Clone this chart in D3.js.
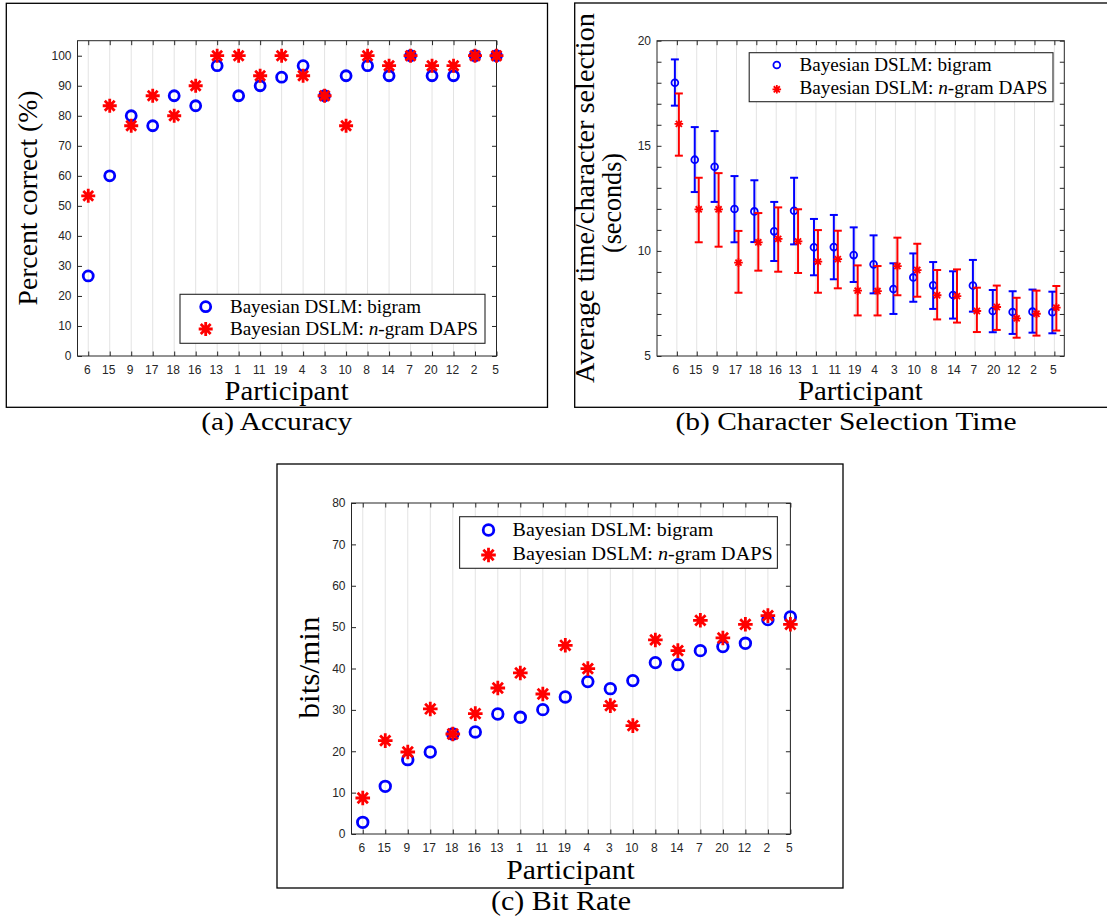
<!DOCTYPE html>
<html>
<head>
<meta charset="utf-8">
<title>DSLM results</title>
<script src="https://d3js.org/d3.v7.min.js"></script>
<style>
body { margin:0; background:white; }
.tick text { font-family:"Liberation Sans", Arial, sans-serif; font-size:12px; fill:#262626; }
.serif { font-family:"Liberation Serif", "Times New Roman", serif; fill:#000; }
</style>
</head>
<body>
<svg id="fig" width="1107" height="920"></svg>
<script>
// participants, in the order used on every x axis
const participants = ["6","15","9","17","18","16","13","1","11","19","4","3","10","8","14","7","20","12","2","5"];

// (a) accuracy, percent correct
const accBigram = [26.67,60,80,76.67,86.67,83.33,96.67,86.67,90,92.86,96.67,86.67,93.33,96.67,93.33,100,93.33,93.33,100,100];
const accDaps   = [53.33,83.33,76.67,86.67,80,90,100,100,93.33,100,93.33,86.67,76.67,100,96.67,100,96.67,96.67,100,100];

// (b) time per character selection (s), mean and error bar ends
const timeBigram   = [18.0,14.34,14.0,11.99,11.88,10.93,11.91,10.17,10.18,9.80,9.36,8.19,8.74,8.36,7.90,8.35,7.14,7.09,7.11,7.08];
const timeBigramLo = [16.91,12.80,12.33,10.41,10.42,9.52,10.31,8.84,8.65,8.52,7.98,7.0,7.58,7.24,6.78,7.11,6.13,6.05,6.11,6.08];
const timeBigramHi = [19.11,15.89,15.70,13.56,13.36,12.33,13.48,11.52,11.71,11.12,10.74,9.41,9.88,9.47,9.03,9.57,8.14,8.08,8.16,8.06];
const timeDaps     = [16.04,11.98,11.98,9.44,10.41,10.57,10.45,9.49,9.61,8.11,8.09,9.28,9.09,7.89,7.85,7.14,7.33,6.79,7.01,7.30];
const timeDapsLo   = [14.53,10.41,10.20,8.01,9.06,9.01,8.95,8.01,8.22,6.93,6.93,7.89,7.82,6.74,6.59,6.14,6.24,5.87,5.97,6.21];
const timeDapsHi   = [17.49,13.48,13.70,10.95,11.80,12.07,11.98,10.99,10.96,9.31,9.28,10.63,10.34,9.09,9.12,8.25,8.35,7.77,8.11,8.33];

// (c) bit rate, bits/min
const rateBigram = [2.82,11.52,17.97,19.82,24.17,24.66,29.0,28.2,30.06,33.12,36.83,35.13,37.07,41.42,40.93,44.32,45.29,46.09,51.81,52.46];
const rateDaps   = [8.70,22.56,19.82,30.22,24.17,29.09,35.29,38.92,33.84,45.61,39.97,31.02,26.19,46.90,44.32,51.65,47.38,50.68,52.78,50.68];

const yTicksAcc = d3.range(0, 101, 10);
const yTicksTime = d3.range(5, 21, 1);
const yTicksRate = d3.range(0, 81, 10);

const legendNames = ["Bayesian DSLM: bigram", "Bayesian DSLM: "];

const svg = d3.select("#fig");
const BLUE = "#0000ff", RED = "#ff0000", AX = "#262626";
const idx = d3.range(1, 21);

// matlab style asterisk: plus and x on top of each other
function asterisk(a) {
  return { draw(ctx) {
    const d = a * Math.SQRT1_2;
    ctx.moveTo(-a, 0); ctx.lineTo(a, 0);
    ctx.moveTo(0, -a); ctx.lineTo(0, a);
    ctx.moveTo(-d, -d); ctx.lineTo(d, d);
    ctx.moveTo(-d, d); ctx.lineTo(d, -d);
  }};
}

function serif(g, txt, x, y, size, len, rot) {
  const t = g.append("text").attr("class", "serif")
    .attr("text-anchor", "middle").style("font-size", size + "px")
    .attr("textLength", len).attr("lengthAdjust", "spacingAndGlyphs");
  if (rot) t.attr("transform", `translate(${x},${y}) rotate(-90)`);
  else t.attr("x", x).attr("y", y);
  t.text(txt);
  return t;
}

function panel(o) {
  const g = svg.append("g");
  g.append("rect").attr("x", o.box[0]).attr("y", o.box[1])
    .attr("width", o.box[2] - o.box[0]).attr("height", o.box[3] - o.box[1])
    .attr("fill", "none").attr("stroke", "#000").attr("stroke-width", 1.3);

  const x = d3.scaleLinear().domain(o.xdom).range([o.left, o.right]);
  const y = d3.scaleLinear().domain(o.ydom).range([o.bottom, o.top]);

  g.append("g").selectAll("line").data(idx).join("line")
    .attr("x1", d => x(d)).attr("x2", d => x(d))
    .attr("y1", o.top).attr("y2", o.bottom)
    .attr("stroke", "#e3e3e3").attr("stroke-width", 1);

  const tk = 4.5;
  const noDomain = s => s.select(".domain").remove();
  const tickStyle = s => s.selectAll(".tick line").attr("stroke", AX);
  g.append("g").attr("transform", `translate(0,${o.bottom})`)
    .call(d3.axisBottom(x).tickValues(idx).tickFormat(d => participants[d - 1])
      .tickSizeInner(-tk).tickSizeOuter(0).tickPadding(o.xpad))
    .call(noDomain).call(tickStyle)
    .call(s => s.selectAll(".tick text").attr("dx", -1.5));
  g.append("g").attr("transform", `translate(0,${o.top})`)
    .call(d3.axisTop(x).tickValues(idx).tickFormat("").tickSizeInner(-tk).tickSizeOuter(0))
    .call(noDomain).call(tickStyle);
  g.append("g").attr("transform", `translate(${o.left},0)`)
    .call(d3.axisLeft(y).tickValues(o.yticks).tickFormat(o.yfmt)
      .tickSizeInner(-tk).tickSizeOuter(0).tickPadding(6))
    .call(noDomain).call(tickStyle);
  g.append("g").attr("transform", `translate(${o.right},0)`)
    .call(d3.axisRight(y).tickValues(o.yticks).tickFormat("").tickSizeInner(-tk).tickSizeOuter(0))
    .call(noDomain).call(tickStyle);
  g.append("rect").attr("x", o.left).attr("y", o.top)
    .attr("width", o.right - o.left).attr("height", o.bottom - o.top)
    .attr("fill", "none").attr("stroke", AX).attr("stroke-width", 1);

  return { g, x, y };
}

function legend(g, L) {
  g.append("rect").attr("x", L.x0).attr("y", L.y0)
    .attr("width", L.x1 - L.x0).attr("height", L.y1 - L.y0)
    .attr("fill", "#fff").attr("stroke", AX).attr("stroke-width", 1.1);
  g.append("circle").attr("cx", L.mx).attr("cy", L.my[0]).attr("r", L.r)
    .attr("fill", "none").attr("stroke", BLUE).attr("stroke-width", L.sw);
  g.append("path").attr("transform", `translate(${L.mx},${L.my[1]})`)
    .attr("d", d3.symbol().type(asterisk(L.arm))())
    .attr("fill", "none").attr("stroke", RED).attr("stroke-width", L.sw);
  g.append("text").attr("class", "serif").attr("x", L.tx).attr("y", L.ty[0])
    .style("font-size", L.fs + "px").attr("textLength", L.w[0]).attr("lengthAdjust", "spacingAndGlyphs")
    .text(legendNames[0]);
  const t = g.append("text").attr("class", "serif").attr("x", L.tx).attr("y", L.ty[1])
    .style("font-size", L.fs + "px").attr("textLength", L.w[1]).attr("lengthAdjust", "spacingAndGlyphs");
  t.append("tspan").text(legendNames[1]);
  t.append("tspan").style("font-style", "italic").text("n");
  t.append("tspan").text("-gram DAPS");
}

function scatter(p, vals, kind, r, arm, sw) {
  if (kind === "o") {
    p.g.append("g").selectAll("circle").data(vals).join("circle")
      .attr("cx", (d, i) => p.x(i + 1)).attr("cy", d => p.y(d)).attr("r", r)
      .attr("fill", "none").attr("stroke", BLUE).attr("stroke-width", sw);
  } else {
    const sym = d3.symbol().type(asterisk(arm));
    p.g.append("g").selectAll("path").data(vals).join("path")
      .attr("transform", (d, i) => `translate(${p.x(i + 1)},${p.y(d)})`)
      .attr("d", sym()).attr("fill", "none").attr("stroke", RED).attr("stroke-width", sw);
  }
}

// ---------- (a) accuracy ----------
const pa = panel({ box: [6.3, 3.3, 547.5, 407.3], left: 77.5, right: 496.5, top: 40.7, bottom: 356,
  xdom: [0.5, 20], ydom: [0, 105], yticks: yTicksAcc, yfmt: d3.format("d"), xpad: 9 });
scatter(pa, accBigram, "o", 5, 0, 2.8);
scatter(pa, accDaps, "*", 0, 7, 2.8);
legend(pa.g, { x0: 180, y0: 294.3, x1: 485, y1: 343.3, mx: 205.7, my: [306.7, 329], r: 5, arm: 7, sw: 2.8,
  tx: 230, ty: [312.5, 335], fs: 18, w: [191, 248] });
serif(pa.g, "Percent correct (%)", 37, 198, 27, 215, true);
serif(pa.g, "Participant", 286.6, 399.5, 27, 124);
serif(pa.g, "(a) Accuracy", 276.8, 430, 26, 151);

// ---------- (b) selection time ----------
const pb = panel({ box: [574.7, 3, 1120, 407.3], left: 657, right: 1064.3, top: 40.7, bottom: 356,
  xdom: [0, 20.5], ydom: [5, 20], yticks: yTicksTime, yfmt: d => d % 5 === 0 ? d : "", xpad: 9 });
const off = 0.1, cap = 4;
function errorbars(vals, lo, hi, dx, color) {
  const eg = pb.g.append("g").attr("stroke", color).attr("stroke-width", 2).attr("fill", "none");
  const bars = vals.map((v, i) => ({ x: pb.x(i + 1 + dx), lo: pb.y(lo[i]), hi: pb.y(hi[i]) }));
  eg.selectAll(".v").data(bars).join("line").attr("class", "v")
    .attr("x1", d => d.x).attr("x2", d => d.x).attr("y1", d => d.lo).attr("y2", d => d.hi);
  eg.selectAll(".c1").data(bars).join("line").attr("class", "c1")
    .attr("x1", d => d.x - cap).attr("x2", d => d.x + cap).attr("y1", d => d.lo).attr("y2", d => d.lo);
  eg.selectAll(".c2").data(bars).join("line").attr("class", "c2")
    .attr("x1", d => d.x - cap).attr("x2", d => d.x + cap).attr("y1", d => d.hi).attr("y2", d => d.hi);
}
errorbars(timeBigram, timeBigramLo, timeBigramHi, -off, BLUE);
pb.g.append("g").selectAll("circle").data(timeBigram).join("circle")
  .attr("cx", (d, i) => pb.x(i + 1 - off)).attr("cy", d => pb.y(d)).attr("r", 3.4)
  .attr("fill", "none").attr("stroke", BLUE).attr("stroke-width", 1.8);
errorbars(timeDaps, timeDapsLo, timeDapsHi, off, RED);
pb.g.append("g").selectAll("path").data(timeDaps).join("path")
  .attr("transform", (d, i) => `translate(${pb.x(i + 1 + off)},${pb.y(d)})`)
  .attr("d", d3.symbol().type(asterisk(4.3))()).attr("fill", "none").attr("stroke", RED).attr("stroke-width", 1.8);
legend(pb.g, { x0: 749.2, y0: 52.7, x1: 1053, y1: 101.7, mx: 776.8, my: [65, 89.3], r: 3.4, arm: 4.3, sw: 1.8,
  tx: 799.5, ty: [71, 94], fs: 18, w: [192, 248] });
serif(pb.g, "Average time/character selection", 594, 198, 27, 370, true);
serif(pb.g, "(seconds)", 621, 203, 27, 100, true);
serif(pb.g, "Participant", 860.4, 399.5, 27, 125);
serif(pb.g, "(b) Character Selection Time", 846, 430, 26, 341);

// ---------- (c) bit rate ----------
const pc = panel({ box: [277, 464, 843, 888], left: 351.5, right: 790.4, top: 503, bottom: 834,
  xdom: [0.5, 20], ydom: [0, 80], yticks: yTicksRate, yfmt: d3.format("d"), xpad: 9 });
scatter(pc, rateBigram, "o", 5.3, 0, 2.8);
scatter(pc, rateDaps, "*", 0, 7.3, 2.8);
legend(pc.g, { x0: 459.6, y0: 516.7, x1: 777.4, y1: 568.3, mx: 488.5, my: [530, 555], r: 5.3, arm: 7.3, sw: 2.8,
  tx: 512.6, ty: [536, 559.5], fs: 19, w: [200.7, 260] });
serif(pc.g, "bits/min", 319, 667.5, 29, 102, true);
serif(pc.g, "Participant", 570.5, 879, 27, 128.5);
serif(pc.g, "(c) Bit Rate", 561, 910, 27, 140);
</script>
</body>
</html>
